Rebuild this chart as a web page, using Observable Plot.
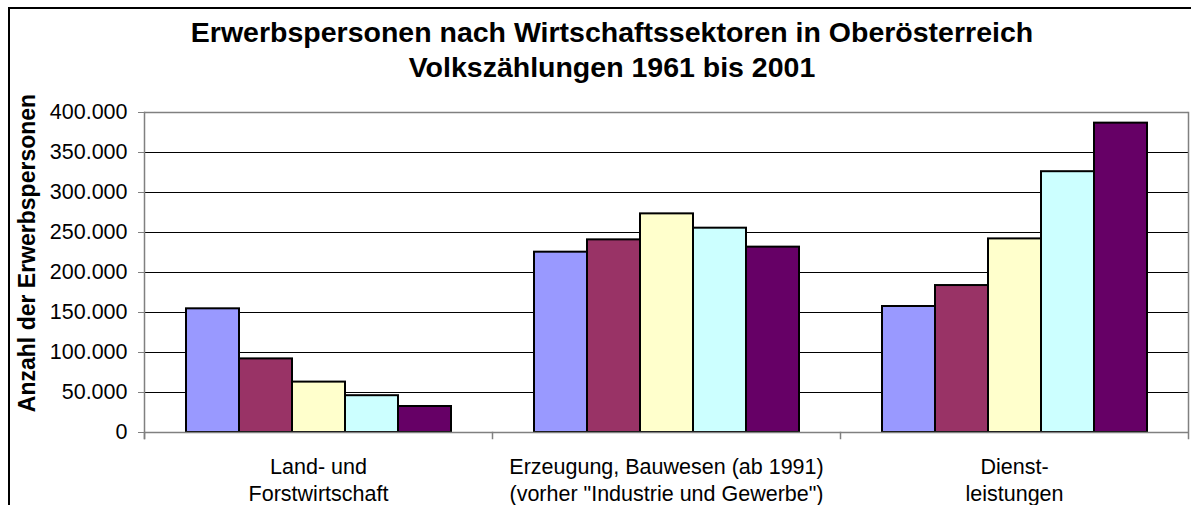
<!DOCTYPE html>
<html>
<head>
<meta charset="utf-8">
<script src="https://cdn.jsdelivr.net/npm/d3@7"></script>
<script src="https://cdn.jsdelivr.net/npm/@observablehq/plot@0.6"></script>
<style>
html, body { margin: 0; padding: 0; background: #fff; overflow: hidden; width: 1191px; height: 505px; }
#wrap { position: relative; width: 1191px; height: 505px; font-family: "Liberation Sans", Arial, sans-serif; overflow: hidden; }
#border { position: absolute; left: 8px; top: 7px; width: 1400px; height: 700px; border-left: 2px solid #000; border-top: 2px solid #000; }
#chart { position: absolute; left: 0; top: 90px; }
#overlay { position: absolute; left: 0; top: 0; }
</style>
</head>
<body>
<div id="wrap">
  <div id="border"></div>
  <div id="chart"></div>
  <svg id="overlay" width="1191" height="100"></svg>
</div>
<script>
// ---- data ----
const titleLines = ["Erwerbspersonen nach Wirtschaftssektoren in Oberösterreich", "Volkszählungen 1961 bis 2001"];
const yLabel = "Anzahl der Erwerbspersonen";
const categories = ["Land- und\nForstwirtschaft", "Erzeugung, Bauwesen (ab 1991)\n(vorher \"Industrie und Gewerbe\")", "Dienst-\nleistungen"];
const years = ["1961", "1971", "1981", "1991", "2001"];
const landForst = [154600, 92000, 63000, 46000, 32500];
const erzeugung = [225400, 240800, 273300, 255400, 231700];
const dienstleistungen = [157500, 183700, 242000, 326000, 386700];
const yTicks = [0, 50000, 100000, 150000, 200000, 250000, 300000, 350000, 400000];
const colors = ["#9999FF", "#993366", "#FFFFCC", "#CCFFFF", "#660066"];

const seriesByCategory = [landForst, erzeugung, dienstleistungen];
const table = [];
categories.forEach((c, i) => years.forEach((yr, j) => table.push({category: c, year: yr, value: seriesByCategory[i][j]})));

const de = d3.formatLocale({decimal: ",", thousands: ".", grouping: [3], currency: ["", " €"]});
const fmt = de.format(",d");

const plot = Plot.plot({
  width: 1191,
  height: 415,
  marginTop: 22,
  marginBottom: 73,
  marginLeft: 144,
  marginRight: 3,
  style: {fontFamily: "'Liberation Sans', Arial, sans-serif", fontSize: "21.5px", background: "transparent", color: "#000"},
  fx: {domain: categories, padding: 0, label: null, axis: null},
  x: {domain: years, paddingInner: 0, paddingOuter: 0.75, axis: null},
  y: {domain: [0, 400000], axis: null},
  color: {domain: years, range: colors},
  marks: [
    Plot.gridY(yTicks.slice(1, -1), {stroke: "#000", strokeOpacity: 1, strokeWidth: 1}),
    Plot.ruleY([400000], {stroke: "#808080", strokeWidth: 1.5}),
    Plot.barY(table, {fx: "category", x: "year", y: "value", fill: "year", stroke: "#000", strokeWidth: 2}),
    Plot.ruleY([0], {stroke: "#808080", strokeWidth: 1.5}),
    Plot.frame({anchor: "left", facetAnchor: "left", stroke: "#808080", strokeWidth: 1.5, insetBottom: -6}),
    Plot.frame({anchor: "right", facetAnchor: "right", stroke: "#808080", strokeWidth: 1.5, insetBottom: -6}),
    Plot.frame({anchor: "left", stroke: "#808080", strokeWidth: 1.5, insetTop: 320, insetBottom: -6}),
    Plot.axisY(yTicks, {tickSize: 6, tickPadding: 11, tickFormat: fmt, fontSize: 21.5, stroke: "#808080", fill: "#000", label: null}),
    Plot.axisFx({anchor: "bottom", tickSize: 0, tickPadding: 23, fontSize: 21.5, lineHeight: 1.24, fill: "#000", label: null})
  ]
});
document.getElementById("chart").appendChild(plot);

// title and y-axis label as text
const ov = d3.select("#overlay").attr("height", 505).style("pointer-events", "none");
ov.selectAll("text.t").data(titleLines).join("text")
  .attr("class", "t")
  .attr("x", 612)
  .attr("y", (d, i) => 42 + i * 35)
  .attr("text-anchor", "middle")
  .attr("font-family", "'Liberation Sans', Arial, sans-serif")
  .attr("font-weight", "bold")
  .attr("font-size", 28.5)
  .text(d => d);
ov.append("text")
  .attr("transform", "translate(35,253) rotate(-90)")
  .attr("text-anchor", "middle")
  .attr("font-family", "'Liberation Sans', Arial, sans-serif")
  .attr("font-weight", "bold")
  .attr("font-size", 23)
  .text(yLabel);
</script>
</body>
</html>
